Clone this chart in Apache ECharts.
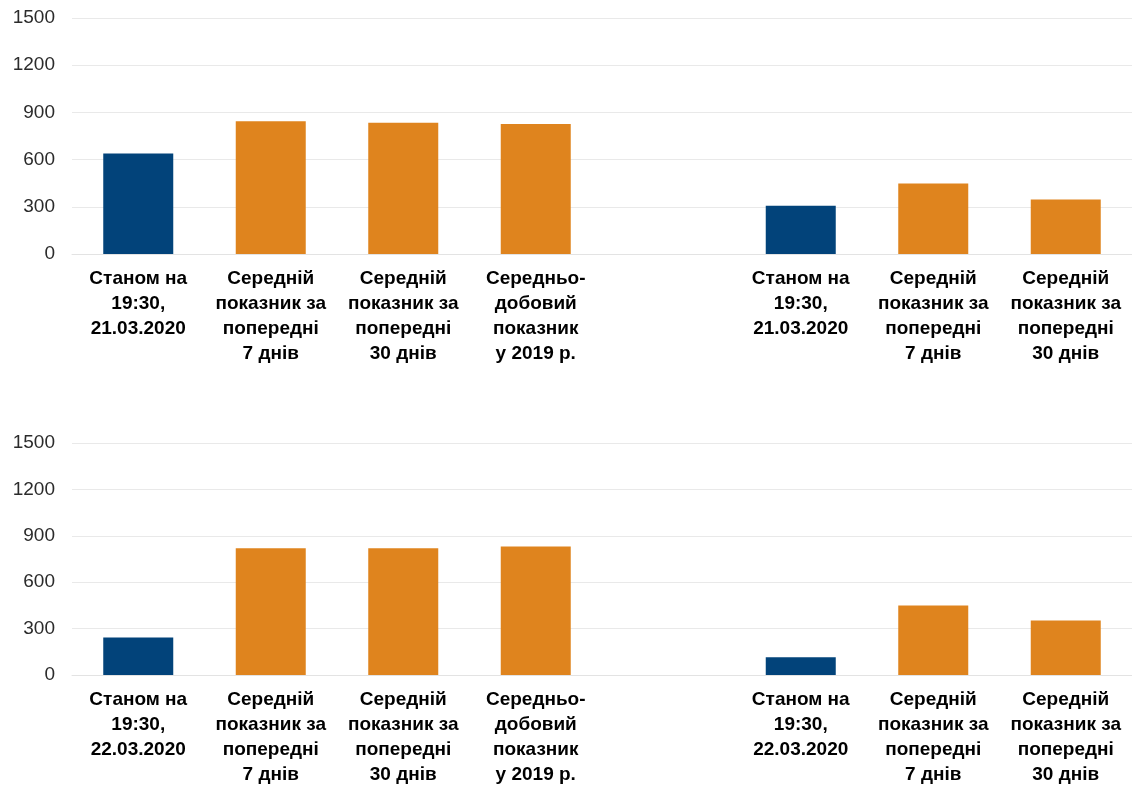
<!DOCTYPE html>
<html><head><meta charset="utf-8">
<script src="https://cdn.jsdelivr.net/npm/echarts@6/dist/echarts.min.js"></script>
<style>html,body{margin:0;padding:0;background:#fff;overflow:hidden}#c{width:1132px;height:787px}</style>
</head><body><div id="c"></div>
<script>
var catsTop = ["Станом на\n19:30,\n21.03.2020","Середній\nпоказник за\nпопередні\n7 днів","Середній\nпоказник за\nпопередні\n30 днів","Середньо-\nдобовий\nпоказник\nу 2019 р.","","Станом на\n19:30,\n21.03.2020","Середній\nпоказник за\nпопередні\n7 днів","Середній\nпоказник за\nпопередні\n30 днів"];
var catsBottom = ["Станом на\n19:30,\n22.03.2020","Середній\nпоказник за\nпопередні\n7 днів","Середній\nпоказник за\nпопередні\n30 днів","Середньо-\nдобовий\nпоказник\nу 2019 р.","","Станом на\n19:30,\n22.03.2020","Середній\nпоказник за\nпопередні\n7 днів","Середній\nпоказник за\nпопередні\n30 днів"];
var currentTop = [638, null, null, null, null, 306, null, null];
var averageTop = [null, 844, 835, 826, null, null, 448, 347];
var currentBottom = [242, null, null, null, null, 115, null, null];
var averageBottom = [null, 820, 820, 831, null, null, 449, 353];
var yTicks = {min: 0, max: 1500, interval: 300};

var BLUE = '#02437A', ORANGE = '#DF841E';
var chart = echarts.init(document.getElementById('c'));
function xAxis(idx, cats){
  return {type:'category', gridIndex: idx, data: cats,
    axisLine:{lineStyle:{color:'#e3e3e3', width:1}}, axisTick:{show:false},
    axisLabel:{interval:0, color:'#000', fontWeight:'bold', fontSize:19, lineHeight:25, margin:12, fontFamily:'Liberation Sans, Arial, sans-serif'}};
}
function yAxis(idx){
  return {type:'value', gridIndex: idx, min: yTicks.min, max: yTicks.max, interval: yTicks.interval,
    axisLine:{show:false}, axisTick:{show:false},
    splitLine:{lineStyle:{color:'#e9e9e9', width:1}},
    axisLabel:{color:'#2b2b2b', fontSize:19, margin:17, fontFamily:'Liberation Sans, Arial, sans-serif',
      formatter: function(v){ return String(v); }}};
}
function bars(idx, data, color){
  return {type:'bar', xAxisIndex: idx, yAxisIndex: idx, data: data, barWidth: 70, barGap:'-100%',
    itemStyle:{color: color}, silent:true};
}
chart.setOption({
  animation:false,
  grid:[{left:72, top:18, width:1061, height:236},{left:72, top:443, width:1061, height:236}],
  xAxis:[xAxis(0, catsTop), xAxis(1, catsBottom)],
  yAxis:[yAxis(0), yAxis(1)],
  series:[bars(0, currentTop, BLUE), bars(0, averageTop, ORANGE), bars(1, currentBottom, BLUE), bars(1, averageBottom, ORANGE)]
});
</script></body></html>
